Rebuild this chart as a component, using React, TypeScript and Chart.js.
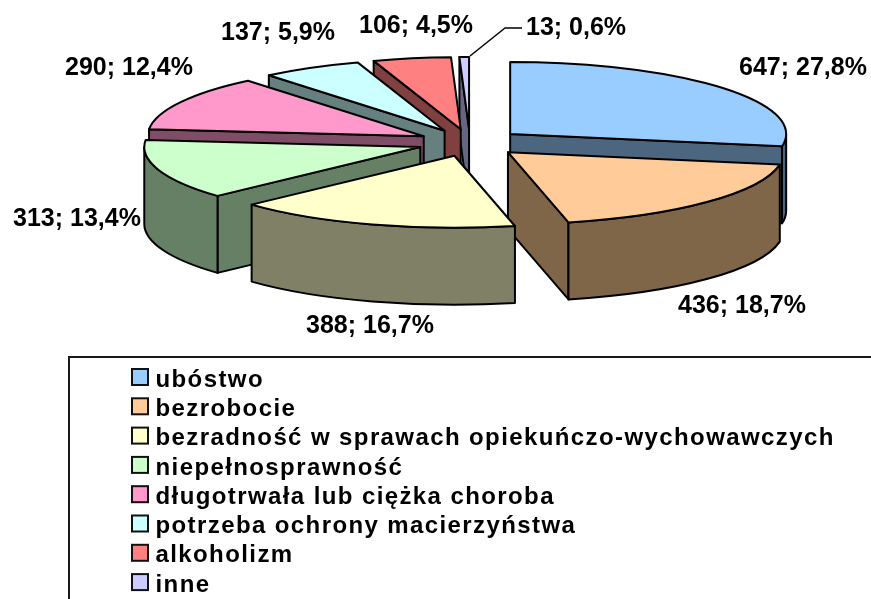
import React, { useEffect, useRef } from "react";
import { Chart, registerables } from "chart.js";

Chart.register(...registerables);

const categories = [
  "ubóstwo",
  "bezrobocie",
  "bezradność w sprawach opiekuńczo-wychowawczych",
  "niepełnosprawność",
  "długotrwała lub ciężka choroba",
  "potrzeba ochrony macierzyństwa",
  "alkoholizm",
  "inne",
];
const values = [647, 436, 388, 313, 290, 137, 106, 13];
const percents = ["27,8%", "18,7%", "16,7%", "13,4%", "12,4%", "5,9%", "4,5%", "0,6%"];

const topColors = ["#99CCFF", "#FFCC99", "#FFFFCC", "#CCFFCC", "#FF99CC", "#CCFFFF", "#FF8080", "#CCCCFF"];
const wallColors = ["#4D6680", "#806648", "#808066", "#668066", "#804D66", "#668080", "#804040", "#666680"];

// Layout of the flattened, exploded pie (not data)
const CX = 470;
const CY = 142.7;
const RX = 276;
const RY = 72;
const DEPTH = 77;
const EXPLODE = 0.19;
const paintOrder = [7, 6, 5, 4, 3, 0, 1, 2];
const labelLeft = [739, 678, 306, 13, 65, 221, 359, 526];
const labelMid = [68, 306, 326, 219, 68, 33, 26, 28];
const LEGEND_TOP = 362.7;
const FONT = "Liberation Sans, Arial, sans-serif";

const pie3d = {
  id: "pie3d",
  afterLayout(chart: any) {
    const lg = chart.legend;
    const delta = LEGEND_TOP - lg.top;
    lg.top += delta;
    lg.bottom += delta;
    lg.legendHitBoxes.forEach((hb: any) => {
      hb.top += delta;
    });
  },
  beforeDraw(chart: any) {
    const ctx = chart.ctx;
    ctx.letterSpacing = "1.4px";
    // legend frame
    ctx.save();
    ctx.strokeStyle = "#1a1a1a";
    ctx.lineWidth = 2;
    ctx.beginPath();
    ctx.moveTo(69, 640);
    ctx.lineTo(69, 357);
    ctx.lineTo(871, 357);
    ctx.stroke();
    ctx.restore();
  },
  beforeDatasetsDraw(chart: any) {
    const ctx = chart.ctx;
    ctx.letterSpacing = "0px";
    const arcs = chart.getDatasetMeta(0).data;

    // legend swatches
    ctx.save();
    chart.legend.legendHitBoxes.forEach((hb: any, i: number) => {
      ctx.fillStyle = topColors[i];
      ctx.strokeStyle = "#111";
      ctx.lineWidth = 2;
      ctx.fillRect(hb.left, hb.top + 1, 16, 16);
      ctx.strokeRect(hb.left, hb.top + 1, 16, 16);
    });
    ctx.restore();

    ctx.lineJoin = "round";
    paintOrder.forEach((i) => {
      const a = arcs[i];
      const s = a.startAngle;
      const e = a.endAngle;
      const mid = (s + e) / 2;
      const px = CX + EXPLODE * RX * Math.cos(mid);
      const py = CY + EXPLODE * RY * Math.sin(mid);
      ctx.save();
      ctx.strokeStyle = "#000";
      ctx.lineWidth = 2;
      ctx.fillStyle = wallColors[i];

      const radial = (ang: number) => {
        const qx = px + RX * Math.cos(ang);
        const qy = py + RY * Math.sin(ang);
        ctx.beginPath();
        ctx.moveTo(px, py);
        ctx.lineTo(qx, qy);
        ctx.lineTo(qx, qy + DEPTH);
        ctx.lineTo(px, py + DEPTH);
        ctx.closePath();
        ctx.fill();
        ctx.stroke();
      };
      if (Math.cos(s) < -1e-6) radial(s);
      if (Math.cos(e) > 1e-6) radial(e);

      const t1 = Math.max(s, 0);
      const t2 = Math.min(e, Math.PI);
      if (t2 > t1) {
        ctx.beginPath();
        ctx.ellipse(px, py, RX, RY, 0, t1, t2);
        ctx.ellipse(px, py + DEPTH, RX, RY, 0, t2, t1, true);
        ctx.closePath();
        ctx.fill();
        ctx.stroke();
      }

      // top face: the library's own arc element, flattened
      ctx.save();
      ctx.translate(px, py);
      ctx.scale(RX / a.outerRadius, RY / a.outerRadius);
      ctx.translate(-a.x, -a.y);
      a.draw(ctx);
      ctx.restore();

      ctx.beginPath();
      ctx.moveTo(px, py);
      ctx.ellipse(px, py, RX, RY, 0, s, e);
      ctx.closePath();
      ctx.stroke();
      ctx.restore();
    });

    // leader line for the smallest slice
    ctx.save();
    ctx.strokeStyle = "#000";
    ctx.lineWidth = 1.5;
    ctx.beginPath();
    ctx.moveTo(522, 28);
    ctx.lineTo(505, 28);
    ctx.lineTo(470, 56);
    ctx.stroke();
    ctx.restore();

    // data labels
    ctx.save();
    ctx.fillStyle = "#000";
    ctx.font = `bold 25px ${FONT}`;
    ctx.textAlign = "left";
    ctx.textBaseline = "middle";
    values.forEach((v, i) => {
      ctx.fillText(`${v}; ${percents[i]}`, labelLeft[i], labelMid[i]);
    });
    ctx.restore();
    return false;
  },
};

export default function App() {
  const ref = useRef<HTMLCanvasElement>(null);
  useEffect(() => {
    const chart = new Chart(ref.current as HTMLCanvasElement, {
      type: "pie",
      data: {
        labels: categories,
        datasets: [{ data: values, backgroundColor: topColors, borderWidth: 0 }],
      },
      options: {
        animation: false,
        responsive: false,
        layout: { padding: { left: 126.7, top: 359.2, right: 0, bottom: 0 } },
        plugins: {
          tooltip: { enabled: false },
          legend: {
            position: "chartArea",
            align: "start",
            labels: {
              boxWidth: 11.5,
              boxHeight: 11.5,
              padding: 5.3,
              color: "#000",
              font: { family: FONT, size: 24, weight: "bold" },
              generateLabels: () =>
                categories.map((text, index) => ({
                  text,
                  index,
                  fillStyle: "rgba(0,0,0,0)",
                  strokeStyle: "rgba(0,0,0,0)",
                  lineWidth: 0,
                  hidden: false,
                })),
            },
          },
        },
      } as any,
      plugins: [pie3d],
    });
    return () => chart.destroy();
  }, []);
  return (
    <div style={{ position: "fixed", left: 0, top: 0, width: 871, height: 599, overflow: "hidden", background: "#fff" }}>
      <canvas ref={ref} width={871} height={660} style={{ display: "block" }} />
    </div>
  );
}
